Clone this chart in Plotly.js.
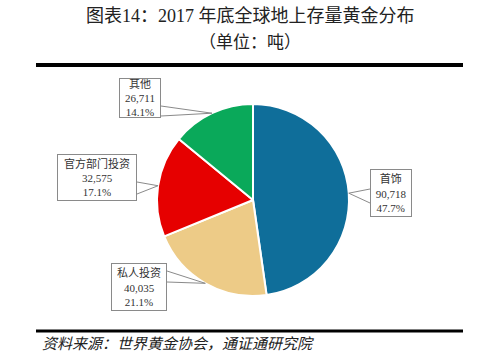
<!DOCTYPE html>
<html>
<head>
<meta charset="utf-8">
<script src="https://cdn.plot.ly/plotly-3.0.1.min.js"></script>
<style>html,body{margin:0;padding:0;background:#fff;}#chart{width:500px;height:362px;}</style>
</head>
<body>
<div id="chart"></div>
<script>
// ---- data ----
const labels = ['首饰', '私人投资', '官方部门投资', '其他'];
const values = [90718, 40035, 32575, 26711];
const titleLine1 = '图表14：2017 年底全球地上存量黄金分布';
const titleLine2 = '（单位：吨）';
const sourceText = '资料来源：世界黄金协会，通证通研究院';

// ---- styles ----
const colors = ['#0f6e9a', '#edcb87', '#e60000', '#0aa95a'];
const W = 500, H = 362;
const cx = 253, cy = 200, R = 96;            // pie placement (px)
// label boxes: [centerX, centerY, width, height] in px
const boxes = [[391, 193, 42, 48], [139, 287, 56, 48], [97, 177.5, 80, 47], [140, 98, 42, 40]];
// callout base points on box edges (px)
const bases = [[[370, 189], [370, 203]], [[167, 271], [167, 282]], [[137, 182], [137, 194]], [[161, 106], [161, 116]]];

const px = x => x / W;
const py = y => 1 - y / H;
const total = values.reduce((a, b) => a + b, 0);
const fmt = v => v.toLocaleString('en-US');

const trace = {
  type: 'pie',
  labels: labels,
  values: values,
  sort: false,
  direction: 'clockwise',
  rotation: 0,
  textinfo: 'none',
  hoverinfo: 'label+value+percent',
  marker: {colors: colors, line: {color: '#ffffff', width: 2}},
  domain: {x: [px(cx - R), px(cx + R)], y: [py(cy + R), py(cy - R)]},
  showlegend: false
};

const serif = 'Liberation Serif, Noto Sans CJK SC';
const annotations = [
  {text: titleLine1, x: 0.5, y: py(16), xref: 'paper', yref: 'paper', showarrow: false,
   xanchor: 'center', yanchor: 'middle', font: {family: serif, size: 18, color: '#222'}},
  {text: titleLine2, x: 0.5, y: py(43), xref: 'paper', yref: 'paper', showarrow: false,
   xanchor: 'center', yanchor: 'middle', font: {family: serif, size: 17, color: '#222'}},
  {text: '<i>' + sourceText + '</i>', x: px(40), y: py(344), xref: 'paper', yref: 'paper', xanchor: 'left',
   yanchor: 'middle', showarrow: false, font: {family: serif, size: 15, color: '#222'}}
];

const shapes = [
  {type: 'line', xref: 'paper', yref: 'paper', x0: px(36), x1: px(463), y0: py(65), y1: py(65), line: {color: '#000', width: 4}},
  {type: 'line', xref: 'paper', yref: 'paper', x0: px(36), x1: px(463), y0: py(331), y1: py(331), line: {color: '#000', width: 3}}
];

let cum = 0;
labels.forEach((lab, i) => {
  const mid = (cum + values[i] / 2) / total * 2 * Math.PI;
  cum += values[i];
  const tx = cx + R * Math.sin(mid), ty = cy - R * Math.cos(mid);
  const b = boxes[i];
  const pct = (values[i] / total * 100).toFixed(1) + '%';
  annotations.push({
    text: lab + '<br>' + fmt(values[i]) + '<br>' + pct,
    x: px(b[0]), y: py(b[1]), xref: 'paper', yref: 'paper', showarrow: false,
    xanchor: 'center', yanchor: 'middle',
    width: b[2] - 2, height: b[3] - 2, borderpad: 0, borderwidth: 1, bordercolor: '#8a8a8a',
    bgcolor: '#ffffff', align: 'center', valign: 'middle',
    font: {family: serif, size: 11, color: '#333'}
  });
  const bs = bases[i];
  shapes.push({
    type: 'path', xref: 'paper', yref: 'paper', layer: 'above',
    path: `M ${px(bs[0][0])} ${py(bs[0][1])} L ${px(tx)} ${py(ty)} L ${px(bs[1][0])} ${py(bs[1][1])}`,
    line: {color: '#8a8a8a', width: 1}
  });
});

const layout = {
  width: W, height: H,
  margin: {l: 0, r: 0, t: 0, b: 0},
  paper_bgcolor: '#ffffff', plot_bgcolor: '#ffffff',
  annotations: annotations, shapes: shapes, showlegend: false
};

Plotly.newPlot('chart', [trace], layout, {displayModeBar: false, staticPlot: true});
</script>
</body>
</html>
